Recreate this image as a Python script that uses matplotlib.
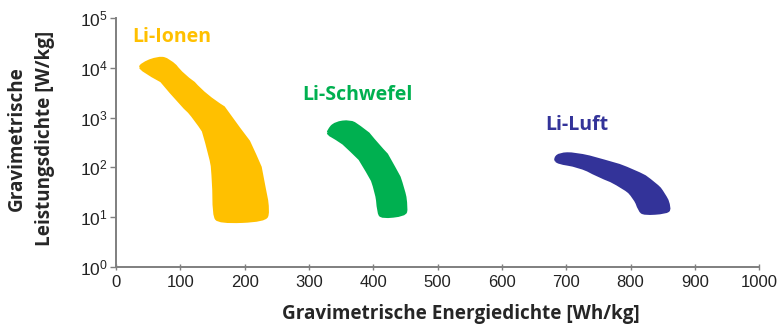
import numpy as np
import matplotlib.pyplot as plt
from matplotlib.path import Path
from matplotlib.patches import PathPatch

plt.rcParams["mathtext.fontset"] = "custom"
plt.rcParams["mathtext.rm"] = "Liberation Sans"
plt.rcParams["mathtext.it"] = "Liberation Sans"

# Outlines of the three technology regions: energy density [Wh/kg], power density [W/kg]
ION_ENERGY = [38, 67, 82, 103, 139, 196, 217, 232, 237, 232, 160, 152, 152, 147, 124, 103, 38]
ION_POWER = [1.15e4, 1.62e4, 1.45e4, 7.2e3, 2.7e3, 490, 170, 31, 12.3, 8.5, 7.8, 10.7, 43, 170, 910, 1.7e3, 9.1e3]

S_ENERGY = [330, 341, 364, 377, 408, 434, 447, 452, 449, 413, 408, 405, 392, 366, 341, 330]
S_POWER = [540, 780, 850, 680, 270, 91, 36, 14.5, 11, 9.8, 12.3, 31, 78, 215, 390, 460]

AIR_ENERGY = [682, 690, 713, 759, 806, 839, 852, 862, 855, 821, 814, 806, 790, 749, 718, 687]
AIR_POWER = [148, 186, 190, 135, 85, 46, 29, 14.5, 12.3, 11.5, 13.5, 24.5, 39, 68, 107, 123]

REGIONS = [
    ("Li-Ionen", ION_ENERGY, ION_POWER, "#FFC000", (87, 4.2e4)),
    ("Li-Schwefel", S_ENERGY, S_POWER, "#00B050", (375, 2.9e3)),
    ("Li-Luft", AIR_ENERGY, AIR_POWER, "#333399", (716, 7.2e2)),
]

X_TICKS = list(range(0, 1001, 100))
Y_TICKS = [1, 10, 100, 1e3, 1e4, 1e5]
Y_LABELS = [r"$10^{%d}$" % i for i in range(6)]


def rounded_outline(xs, ys):
    # closed quadratic B-spline through the outline points (rounded corners)
    pts = np.column_stack([xs, ys]).astype(float)
    nxt = np.roll(pts, -1, axis=0)
    mids = (pts + nxt) / 2
    verts = [mids[-1]]
    codes = [Path.MOVETO]
    for p, m in zip(pts, mids):
        verts += [p, m]
        codes += [Path.CURVE3, Path.CURVE3]
    return Path(verts, codes)


def main():
    fig = plt.figure(figsize=(7.81, 3.32), dpi=100)
    ax = fig.add_axes([0.1485, 0.196, 0.8235, 0.750])

    for name, energy, power, color, (tx, ty) in REGIONS:
        ax.add_patch(PathPatch(rounded_outline(energy, power), facecolor=color,
                               edgecolor=color, linewidth=2))
        ax.text(tx, ty, name, color=color, fontsize=14, fontweight="bold",
                family="Open Sans", ha="center", va="center")

    ax.set_xlim(0, 1000)
    ax.set_yscale("log")
    ax.set_ylim(1, 1e5)
    ax.set_xticks(X_TICKS)
    ax.set_yticks(Y_TICKS)
    ax.set_yticklabels(Y_LABELS)
    ax.minorticks_off()

    for side in ("top", "right"):
        ax.spines[side].set_visible(False)
    for side in ("left", "bottom"):
        ax.spines[side].set_color("#7f7f7f")
        ax.spines[side].set_linewidth(1.4)

    ax.tick_params(axis="x", direction="inout", length=5, width=1, color="#7f7f7f",
                   labelsize=12, labelcolor="#222222", pad=3)
    ax.tick_params(axis="y", direction="out", length=4, width=1, color="#7f7f7f",
                   labelsize=12.5, labelcolor="#222222", pad=2)
    for lbl in ax.get_xticklabels() + ax.get_yticklabels():
        lbl.set_family("Liberation Sans")

    ax.set_xlabel("Gravimetrische Energiedichte [Wh/kg]", fontsize=13.6,
                  fontweight="bold", family="Open Sans", color="#262626")
    ax.set_ylabel("Gravimetrische\nLeistungsdichte [W/kg]", fontsize=13.6,
                  fontweight="bold", family="Open Sans", color="#262626",
                  linespacing=1.55)
    ax.xaxis.set_label_coords(0.536, -0.148)
    ax.yaxis.set_label_coords(-0.095, 0.515)

    fig.savefig("out.png", dpi=100)


if __name__ == "__main__":
    main()
